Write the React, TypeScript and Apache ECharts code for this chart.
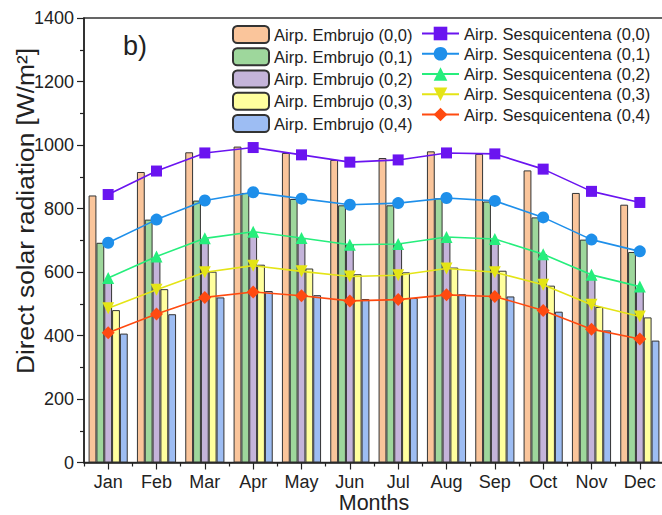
import React, { useEffect, useRef } from "react";
import * as echarts from "echarts";

const months = ["Jan", "Feb", "Mar", "Apr", "May", "Jun", "Jul", "Aug", "Sep", "Oct", "Nov", "Dec"];

const embrujoNames = [
  "Airp. Embrujo (0,0)",
  "Airp. Embrujo (0,1)",
  "Airp. Embrujo (0,2)",
  "Airp. Embrujo (0,3)",
  "Airp. Embrujo (0,4)",
];
const sesqNames = [
  "Airp. Sesquicentena (0,0)",
  "Airp. Sesquicentena (0,1)",
  "Airp. Sesquicentena (0,2)",
  "Airp. Sesquicentena (0,3)",
  "Airp. Sesquicentena (0,4)",
];

const embrujo00 = [841, 915, 977, 995, 975, 953, 959, 980, 972, 920, 849, 812];
const embrujo01 = [692, 765, 825, 849, 830, 810, 810, 832, 822, 772, 702, 663];
const embrujo02 = [568, 645, 704, 725, 707, 686, 688, 710, 702, 656, 586, 544];
const embrujo03 = [480, 546, 601, 623, 611, 593, 599, 614, 604, 557, 490, 457];
const embrujo04 = [406, 467, 520, 540, 527, 515, 518, 530, 523, 475, 416, 384];

const sesq00 = [844, 918, 975, 992, 969, 946, 953, 975, 972, 924, 854, 819];
const sesq01 = [692, 765, 825, 851, 831, 812, 817, 833, 824, 772, 702, 665];
const sesq02 = [581, 649, 706, 727, 707, 686, 688, 710, 704, 656, 591, 554];
const sesq03 = [486, 544, 599, 620, 602, 586, 590, 611, 599, 560, 497, 460];
const sesq04 = [409, 468, 520, 537, 525, 509, 513, 528, 523, 479, 420, 389];

const yTitle = "Direct solar radiation [W/m²]";
const xTitle = "Months";
const panelLabel = "b)";

const barColors = ["#FAC59B", "#9ED79C", "#C4B4DA", "#FFFF9E", "#9DBDF3"];
const lineColors = ["#6A14F0", "#1E8FEA", "#26EE7C", "#E4E416", "#FF4A10"];
const lineSymbols = ["rect", "circle", "triangle", "triangle", "diamond"];
const symbolSizes = [11, 12, 12, 12, 13];
const symbolRotates = [0, 0, 0, 180, 0];

const FONT = "'Liberation Sans', Arial, sans-serif";

export default function App() {
  const ref = useRef<HTMLDivElement>(null);
  useEffect(() => {
    if (!ref.current) return;
    const chart = echarts.init(ref.current, undefined, { renderer: "svg" });
    const barData = [embrujo00, embrujo01, embrujo02, embrujo03, embrujo04];
    const lineData = [sesq00, sesq01, sesq02, sesq03, sesq04];

    const barSeries = barData.map((d, i) => ({
      name: embrujoNames[i],
      type: "bar",
      data: d,
      xAxisIndex: 0,
      barGap: "0%",
      barCategoryGap: "19%",
      itemStyle: { color: barColors[i], borderColor: "#333", borderWidth: 1 },
    }));
    const lineSeries = lineData.map((d, i) => ({
      name: sesqNames[i],
      type: "line",
      data: d,
      xAxisIndex: 0,
      symbol: lineSymbols[i],
      symbolSize: symbolSizes[i],
      symbolRotate: symbolRotates[i],
      showAllSymbol: true,
      lineStyle: { color: lineColors[i], width: 1.6 },
      itemStyle: { color: lineColors[i] },
      z: 5,
    }));

    const legendBase = {
      orient: "vertical",
      top: 25,
      padding: 0,
      itemHeight: 17,
      itemGap: 3.25,
      textStyle: { fontFamily: FONT, fontSize: 16.5, color: "#222", lineHeight: 17 },
      selectedMode: false,
    };

    chart.setOption({
      animation: false,
      backgroundColor: "#fff",
      grid: {
        left: 84,
        top: 18,
        width: 580,
        height: 444.5,
        show: true,
        borderColor: "#333",
        borderWidth: 1.5,
        backgroundColor: "transparent",
        outerBoundsMode: "none",
        containLabel: false,
      },
      legend: [
        { ...legendBase, left: 232, itemWidth: 36, data: embrujoNames },
        { ...legendBase, left: 421, itemWidth: 37, data: sesqNames },
      ],
      graphic: [
        {
          type: "text",
          left: 123,
          top: 32,
          style: { text: panelLabel, fontFamily: FONT, fontSize: 27, fill: "#222" },
        },
        {
          type: "text",
          x: 26,
          y: 211,
          rotation: Math.PI / 2,
          scaleX: 1.12,
          scaleY: 1,
          style: {
            text: yTitle,
            fontFamily: FONT,
            fontSize: 23.5,
            fill: "#222",
            align: "center",
            verticalAlign: "middle",
          },
        },
        {
          type: "text",
          x: 374,
          y: 503,
          style: {
            text: xTitle,
            fontFamily: FONT,
            fontSize: 21.5,
            lineHeight: 22,
            fill: "#222",
            align: "center",
            verticalAlign: "middle",
          },
        },
      ],
      xAxis: [
        {
          type: "category",
          data: months,
          boundaryGap: true,
          axisLine: { show: true, lineStyle: { color: "#222", width: 1.5 } },
          axisTick: { show: true, alignWithLabel: true, length: 7, lineStyle: { color: "#222", width: 1.2 } },
          axisLabel: { fontFamily: FONT, fontSize: 18, lineHeight: 18, color: "#222", margin: 10 },
          splitLine: { show: false },
        },
        {
          type: "category",
          data: months,
          boundaryGap: true,
          position: "bottom",
          axisLine: { show: false },
          axisTick: { show: true, length: 4, lineStyle: { color: "#222", width: 1.2 } },
          axisLabel: { show: false },
          splitLine: { show: false },
        },
      ],
      yAxis: {
        type: "value",
        min: 0,
        max: 1400,
        interval: 200,
        axisLine: { show: true, lineStyle: { color: "#222", width: 1.5 } },
        axisTick: { show: true, length: 7, lineStyle: { color: "#222", width: 1.2 } },
        minorTick: { show: true, splitNumber: 2, length: 4, lineStyle: { color: "#222", width: 1.2 } },
        axisLabel: {
          fontFamily: FONT,
          fontSize: 18,
          color: "#222",
          margin: 10,
          formatter: (v: number) => String(v),
        },
        splitLine: { show: false },
      },
      series: [...barSeries, ...lineSeries],
    });
    return () => chart.dispose();
  }, []);
  return (
    <div
      ref={ref}
      style={{ position: "fixed", left: 0, top: 0, width: 662, height: 515 }}
    />
  );
}
